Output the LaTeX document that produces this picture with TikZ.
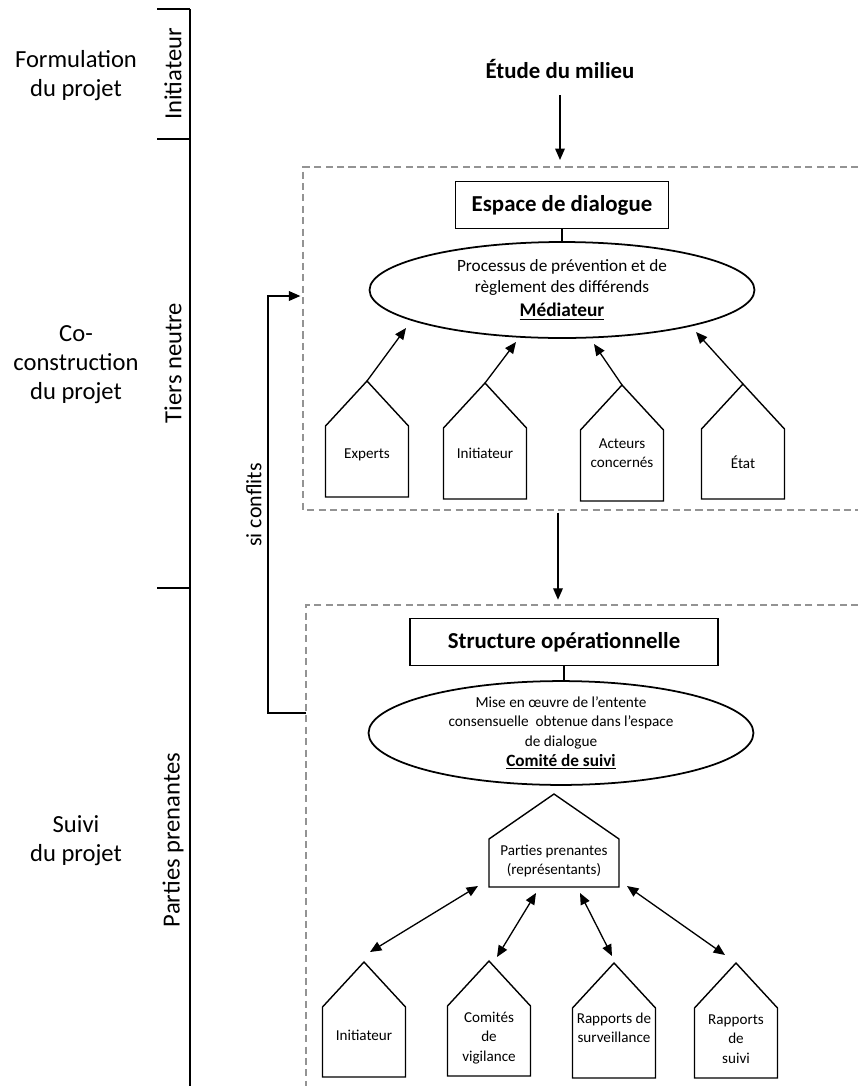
\documentclass[tikz,border=0pt]{standalone}
\usepackage{fontspec}
\setmainfont{Carlito}
\usepackage{tikz}
\usetikzlibrary{arrows.meta, shapes.geometric}

\tikzset{
	pics/house/.style n args={4}{code={
		\draw[housestyle] (0,0) -- (#1,45) -- (#1,#2) -- (-#1,#2) -- (-#1,45) -- cycle;
		\coordinate (-apex) at (0,0);
		\node[housetxt] (-text) at (0,#3) {#4};
	}}
}

\begin{document}
\begin{tikzpicture}[x=0.02cm, y=-0.02cm, >={Triangle[length=6.5pt,width=5.5pt]},
	phase/.style={align=center, font=\fontsize{14}{16.5}\selectfont},
	actor/.style={rotate=90, font=\fontsize{14}{16.5}\selectfont},
	heading/.style={font=\bfseries\fontsize{13}{15}\selectfont},
	titlebox/.style={heading, draw, line width=1pt, minimum height=0.94cm, inner sep=0pt},
	bubble/.style={draw, ellipse, line width=1pt, minimum width=7.7cm, inner sep=0pt, align=center},
	housestyle/.style={line width=0.8pt, line join=miter},
	housetxt/.style={align=center, font=\fontsize{8.6}{11}\selectfont},
	dashbox/.style={draw=gray!85, dash pattern=on 4pt off 2.5pt, line width=0.6pt},
	link/.style={->, line width=0.75pt},
	twoway/.style={<->, line width=0.75pt}]
		\useasboundingbox (0,0) rectangle (858,1086);

		\draw[line width=0.6pt] (190,9) -- (190,1086);
		\draw[line width=0.6pt] (157,9) -- (190,9);
		\draw[line width=0.6pt] (157,139) -- (190,139);
		\draw[line width=0.6pt] (157,588) -- (190,588);

		\node[phase] (form) at (76,76) {Formulation\\du projet};
		\node[phase] (cocon) at (76,365) {Co-\\construction\\du projet};
		\node[phase] (suiv) at (76,841) {Suivi\\du projet};
		\node[actor] (init) at (173,74) {Initiateur};
		\node[actor] (tiers) at (173,363) {Tiers neutre};
		\node[actor] (parties) at (173,840) {Parties prenantes};

		\node[heading] (etude) at (560,69) {Étude du milieu};

		\draw[dashbox] (858,167) -- (303,167) -- (303,510) -- (858,510);
		\draw[dashbox] (858,605) -- (306,605) -- (306,1086);
		\coordinate (haut-top) at (560,167);
		\coordinate (haut-bot) at (558,510);
		\coordinate (haut-left) at (303,296);
		\coordinate (bas-top) at (558,605);
		\coordinate (bas-left) at (306,713);

		\draw[link, shorten <=6pt, shorten >=4pt] (etude) -- (haut-top);
		\draw[link, shorten <=1.5pt, shorten >=3pt] (haut-bot) -- (bas-top);
		\draw[link, shorten >=1.5pt] (bas-left) -- ++(-38,0) |- (haut-left);
		\node[rotate=90, font=\fontsize{12.5}{14}\selectfont] (conflits) at (254,505) {si conflits};

		\node[titlebox, minimum width=4.26cm] (espace) at (562,205) {Espace de dialogue};
		\node[bubble, minimum height=1.92cm, font=\fontsize{9.8}{11.9}\selectfont] (med) at (562,290)
			{Processus de prévention et de\\règlement des différends\\[1.5pt]{\fontsize{11}{13}\selectfont\underline{\textbf{Médiateur}}}};
		\draw[line width=0.6pt] (espace.south) -- (med.north);

		\pic (exp) at (367,381) {house={41.5}{116}{74}{Experts}};
		\pic (ini) at (485,383) {house={41.5}{116}{70}{Initiateur}};
		\pic (act) at (622,385) {house={41.5}{116}{68}{Acteurs\\concernés}};
		\pic (eta) at (743,384) {house={41.5}{115}{78}{État}};
		\coordinate (med-exp) at (406,328);
		\coordinate (med-ini) at (516,342);
		\coordinate (med-act) at (594,344);
		\coordinate (med-eta) at (696,332);
		\draw[link] (exp-apex) -- (med-exp);
		\draw[link] (ini-apex) -- (med-ini);
		\draw[link] (act-apex) -- (med-act);
		\draw[link] (eta-apex) -- (med-eta);

		\node[titlebox, minimum width=6.16cm] (structure) at (564,642) {Structure opérationnelle};
		\node[bubble, minimum height=1.98cm, font=\fontsize{8.7}{11.2}\selectfont] (comite) at (561,733)
			{Mise en œuvre de l’entente\\consensuelle~ obtenue dans l’espace\\de dialogue\\{\fontsize{9.8}{11.5}\selectfont\underline{\textbf{Comité de suivi}}}};
		\draw[line width=0.6pt] (structure.south) -- (structure.south |- comite.north);

		\pic (pp) at (554,794) {house={65}{93}{67}{Parties prenantes\\(représentants)}};
		\pic (ini2) at (364,962) {house={41.5}{115}{73}{Initiateur}};
		\pic (vig) at (489,961) {house={41.5}{115}{77}{Comités\\de\\vigilance}};
		\pic (surv) at (614,963) {house={41.5}{115}{65}{Rapports de\\surveillance}};
		\pic (rap) at (736,963) {house={41.5}{115}{76}{Rapports\\de\\suivi}};
		\coordinate (pp-a) at (478,886);
		\coordinate (pp-b) at (536,893);
		\coordinate (pp-c) at (580,893);
		\coordinate (pp-d) at (627,886);
		\coordinate (ini2-top) at (370,952);
		\coordinate (vig-top) at (497,957);
		\coordinate (surv-top) at (612,956);
		\coordinate (rap-top) at (725,955);
		\draw[twoway] (ini2-top) -- (pp-a);
		\draw[twoway] (vig-top) -- (pp-b);
		\draw[twoway] (surv-top) -- (pp-c);
		\draw[twoway] (rap-top) -- (pp-d);
	\end{tikzpicture}
\end{document}
